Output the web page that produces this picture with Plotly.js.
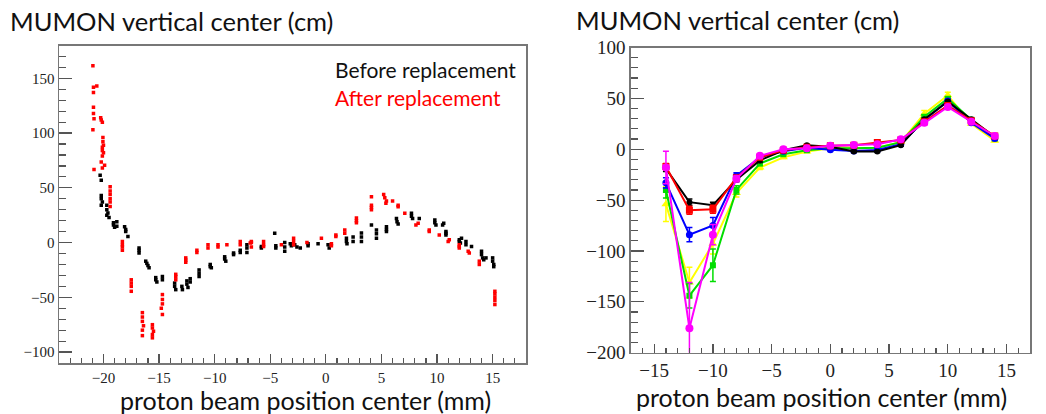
<!DOCTYPE html>
<html>
<head>
<meta charset="utf-8">
<script src="https://cdn.plot.ly/plotly-3.0.1.min.js"></script>
<style>html,body{margin:0;padding:0;background:#fff;}#chart{width:1046px;height:414px;}</style>
</head>
<body>
<div id="chart"></div>
<script>
// ---------- Left panel: scatter (before / after replacement) ----------
const beforeX = [-20.3,-20.2,-20.2,-20.2,-20.1,-20.2,-19.7,-19.7,-19.6,-19.7,-19.5,-19.1,-19.1,-19.0,-18.8,-18.8,-18.1,-18.0,-18.0,-17.8,-16.8,-16.8,-16.8,-16.2,-16.1,-16.0,-15.9,-15.3,-15.3,-15.2,-14.7,-14.7,-13.6,-13.6,-13.5,-12.95,-12.9,-12.5,-12.5,-12.4,-12.2,-12.2,-11.4,-11.4,-11.4,-10.4,-10.4,-10.3,-9.1,-9.1,-9.0,-8.3,-8.3,-7.7,-7.7,-7.1,-7.1,-7.1,-5.8,-5.8,-4.6,-4.5,-4.5,-3.7,-3.7,-3.7,-3.2,-3.1,-2.8,-2.6,-2.3,-1.6,-1.6,-0.7,0.2,0.3,1.85,1.85,1.9,2.45,2.45,3.2,3.2,3.2,4.1,4.55,4.55,4.55,5.45,5.45,5.45,6.35,6.4,6.5,7.7,7.7,7.8,8.4,9.8,9.8,9.9,10.5,10.6,10.8,10.8,10.8,12.0,12.0,12.1,12.2,12.6,12.6,13.1,14.0,14.0,14.1,14.2,14.4,15.0,15.0,15.1,15.1];
const beforeY = [61.5,57,43,40,37,34,34,30,27,25,23,18,16,14,19,15,14.5,12,10,5.5,-5,-7,-9.5,-17,-19,-21,-23,-32,-34,-36,-31,-34,-37,-40,-43,-40,-43,-35,-38,-41,-33,-36,-25,-28,-31,-20,-22,-23,-13,-15,-17,-9.5,-11,-7,-9,-2,-5,-9,-3.6,-5,8.5,-3,-5,0,-4,-8,-1,-3,-2,-4,-5,-1,-3,-1,-2,-5,4,1,-1,5,1,8.8,5,1,16,11.5,8,4,14.5,12,10,22,19,17,26.7,24,22,22,20.6,18,16,16,17.6,10,8.5,7,2.5,1,-0.5,4,1,-2,-3.6,-8,-11,-14,-15.7,-14,-14,-17,-20,-22];
const afterX = [-20.95,-20.9,-20.6,-20.9,-20.9,-20.9,-20.85,-20.95,-20.85,-20.25,-20.2,-20.1,-20.05,-20.05,-20.0,-20.1,-20.1,-20.0,-20.1,-20.2,-19.9,-20.1,-19.4,-19.4,-19.4,-19.4,-19.4,-19.4,-18.3,-18.3,-18.3,-18.3,-17.5,-17.5,-17.5,-17.5,-16.5,-16.5,-16.5,-16.4,-16.5,-16.5,-15.6,-15.6,-15.5,-15.6,-15.6,-14.7,-14.7,-14.7,-14.8,-14.7,-13.5,-13.5,-13.5,-12.6,-12.6,-12.6,-11.6,-11.6,-10.6,-10.6,-9.7,-9.7,-8.9,-7.7,-7.7,-6.7,-6.7,-6.8,-6.7,-5.6,-5.6,-5.6,-4.0,-2.9,-2.9,-2.9,-1.7,-0.4,0.5,0.5,0.9,0.9,1.7,1.7,2.75,2.75,2.75,4.1,4.1,4.1,4.1,5.2,5.3,5.45,5.4,6.0,6.5,6.5,7.1,8.1,8.3,9.3,9.3,10.2,11.0,11.1,12.0,12.0,12.0,12.8,12.9,13.8,13.8,15.2,15.2,15.2,15.2,15.2];
const afterY = [161.5,141.8,143,137,123.6,118,113,103,66.7,114,112,110,96,92,89,87,84,82,79,73.6,70.6,68,51,47,44,40,37,33,1,-2,-4,-7,-34,-37,-40,-44.5,-64,-68,-72,-76,-80,-85,-75,-78,-81,-84,-87,-47.5,-52,-56,-60,-65.7,-29,-31,-34,-14,-16,-18,-7,-9,-2,-5,-2,-4,-2,1,-2,0,1,-0.3,-4,1,-2,-3.6,-2,4,1,-2,0,4,-1,-3,7,5.5,11.5,8.5,22.5,20,18,41.8,34,32,30,44,41,38,36,38,34,32.7,26.7,16,17.6,11.5,10,7,1,2.5,-2,-3.6,-5,-8,-9.6,-17,-20,-44.5,-47,-50,-53,-56.6];

// ---------- Right panel: six series vs beam position ----------
const posX = [-14,-12,-10,-8,-6,-4,-2,0,2,4,6,8,10,12,14];
const blackY   = [-19,-52,-55,-30,-11,-1,4,2.5,-2.3,-2.3,4,29.5,47,29.5,12];
const redY     = [-17,-60,-59,-28,-8,-1,2,3.5,4,6.5,9,27,43,28,13];
const blueY    = [-33,-84,-75,-26,-8,-2,1.5,-0.5,-1.7,-0.7,5,28.5,47.4,26,10.5];
const greenY   = [-40,-144,-114,-40,-14,-5,-1,1,1,1.5,7,32,49.7,29,10.5];
const yellowY  = [-54,-131,-93,-43,-18,-8,-2.3,1,1,1.5,7,35,53,25,8.4];
const magentaY = [-18,-176,-84,-29,-6.5,0,1,3.5,4.2,5,9.7,26,41.5,27,13];
const blackErr   = [3,3,3,2,2,1,1,1,1,1,1,1,1,1,1];
const redErr     = [3,4,4,2,2,1,1,1,1,1,1,1,1,1,1];
const blueErr    = [5,7,8,3,2,1,1,1,1,1,1,1,2,1,1];
const greenErr   = [8,12,16,4,2,1,1,1,1,1,1,2,2,1,1];
const yellowErr  = [17,15,10,4,2,1,1,1,1,1,1,3,3,1,1];
const magentaErr = [16,45,10,3,2,1,1,1,1,1,1,2,2,1,1];

const titleText = "MUMON vertical center (cm)";
const xTitleText = "proton beam position center (mm)";
const legendBefore = "Before replacement";
const legendAfter = "After replacement";

const W = 1046, H = 414;
const px = v => v / W;
const py = v => 1 - v / H;

const traces = [
  {x: beforeX, y: beforeY, type: 'scatter', mode: 'markers', xaxis: 'x', yaxis: 'y',
   marker: {color: '#000', size: 3.5, symbol: 'square'}, showlegend: false},
  {x: afterX, y: afterY, type: 'scatter', mode: 'markers', xaxis: 'x', yaxis: 'y',
   marker: {color: '#ff0000', size: 3.5, symbol: 'square'}, showlegend: false}
];

const series = [
  [yellowY, yellowErr, '#ffff00', 'triangle-up', 8],
  [greenY, greenErr, '#00dd00', 'square', 6],
  [blueY, blueErr, '#0000ff', 'circle', 7],
  [blackY, blackErr, '#000000', 'circle', 6],
  [redY, redErr, '#ff0000', 'square', 7],
  [magentaY, magentaErr, '#ff00ff', 'circle', 8]
];
series.forEach(s => {
  traces.push({x: posX, y: s[0], type: 'scatter', mode: 'lines+markers', xaxis: 'x2', yaxis: 'y2',
    line: {color: s[2], width: 2}, marker: {color: s[2], size: s[4], symbol: s[3]},
    error_y: {type: 'data', array: s[1], visible: true, color: s[2], thickness: 1.5, width: 3},
    cliponaxis: true, showlegend: false});
});

const tickFontL = {family: 'Liberation Serif, Times New Roman, serif', size: 15, color: '#222'};
const tickFontR = {family: 'Liberation Serif, Times New Roman, serif', size: 19, color: '#222'};
const sansFont = 'Lato, Open Sans, sans-serif';

function axis(extra) {
  return Object.assign({
    showgrid: false, zeroline: false, showline: true, linecolor: '#777', linewidth: 1.5,
    mirror: true, ticks: 'inside', tickcolor: '#555', tickwidth: 1.2, fixedrange: true
  }, extra);
}

const layout = {
  width: W, height: H,
  margin: {l: 0, r: 0, t: 0, b: 0},
  paper_bgcolor: '#fff', plot_bgcolor: '#fff',
  showlegend: false,
  xaxis: axis({domain: [px(59), px(526)], range: [-24, 18], dtick: 5, tick0: 0, ticklen: 9,
    tickfont: tickFontL, anchor: 'y',
    minor: {dtick: 1, ticks: 'inside', ticklen: 5, tickcolor: '#555'}}),
  yaxis: axis({domain: [py(363), py(45.5)], range: [-110, 180], dtick: 50, tick0: 0, ticklen: 13,
    tickfont: tickFontL, anchor: 'x',
    minor: {dtick: 10, ticks: 'inside', ticklen: 7, tickcolor: '#555'}}),
  xaxis2: axis({domain: [px(630.7), px(1030)], range: [-17, 17], dtick: 5, tick0: 0, ticklen: 9,
    tickfont: tickFontR, anchor: 'y2', ticklabelstandoff: 0,
    minor: {dtick: 1, ticks: 'inside', ticklen: 5, tickcolor: '#555'}}),
  yaxis2: axis({domain: [py(352.7), py(47.5)], range: [-200, 100], dtick: 50, tick0: 0, ticklen: 13,
    tickfont: tickFontR, anchor: 'x2',
    minor: {dtick: 10, ticks: 'inside', ticklen: 7, tickcolor: '#555'}}),
  annotations: [
    {text: titleText, xref: 'paper', yref: 'paper', x: px(8), y: py(21), xanchor: 'left', yanchor: 'middle',
     showarrow: false, font: {family: sansFont, size: 25.5, color: '#111'}},
    {text: titleText, xref: 'paper', yref: 'paper', x: px(574), y: py(20), xanchor: 'left', yanchor: 'middle',
     showarrow: false, font: {family: sansFont, size: 25.5, color: '#111'}},
    {text: xTitleText, xref: 'paper', yref: 'paper', x: px(118), y: py(400), xanchor: 'left', yanchor: 'middle',
     showarrow: false, font: {family: sansFont, size: 25, color: '#111'}},
    {text: xTitleText, xref: 'paper', yref: 'paper', x: px(634), y: py(397), xanchor: 'left', yanchor: 'middle',
     showarrow: false, font: {family: sansFont, size: 25, color: '#111'}},
    {text: legendBefore, xref: 'paper', yref: 'paper', x: px(333), y: py(70), xanchor: 'left', yanchor: 'middle',
     showarrow: false, font: {family: sansFont, size: 21, color: '#111'}},
    {text: legendAfter, xref: 'paper', yref: 'paper', x: px(333), y: py(97), xanchor: 'left', yanchor: 'middle',
     showarrow: false, font: {family: sansFont, size: 21, color: '#ff0000'}}
  ]
};

Plotly.newPlot('chart', traces, layout, {displayModeBar: false, staticPlot: true});
</script>
</body>
</html>
